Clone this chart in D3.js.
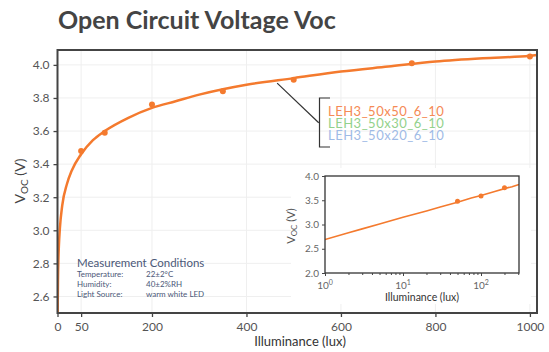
<!DOCTYPE html>
<html lang="en">
<head>
<meta charset="UTF-8">
<title>Open Circuit Voltage Voc</title>
<script src="https://d3js.org/d3.v7.min.js"></script>
<style>
  body { margin: 0; background: #fff; }
  svg { font-family: Lato, "Open Sans", sans-serif; }
</style>
</head>
<body>
<div id="chart"></div>
<script>
// measured points (lux, V)
var measLux = [50, 100, 200, 350, 500, 750, 1000];
var measVoc = [3.48, 3.59, 3.76, 3.84, 3.91, 4.01, 4.05];
// fitted curve
var fitLux = [0.3, 0.5, 1, 2, 3, 5, 10, 20, 30, 50, 75, 100, 150, 200, 250, 300, 400, 500, 600, 700, 800, 900, 1000, 1015];
var fitVoc = [2.45, 2.55, 2.69, 2.83, 2.91, 3.01, 3.15, 3.28, 3.36, 3.46, 3.545, 3.60, 3.68, 3.74, 3.78, 3.82, 3.88, 3.92, 3.96, 3.99, 4.02, 4.04, 4.055, 4.06];
// inset points (log scale)
var insetLux = [50, 100, 200];
var insetVoc = [3.48, 3.59, 3.76];

var xTicks = [0, 50, 200, 400, 600, 800, 1000];
var yTicks = [2.6, 2.8, 3.0, 3.2, 3.4, 3.6, 3.8, 4.0];
var insetYTicks = [2.0, 2.5, 3.0, 3.5, 4.0];
var insetXTicks = [1, 10, 100];

var legendNames = ["LEH3_50x50_6_10", "LEH3_50x30_6_10", "LEH3_50x20_6_10"];
var legendColors = ["#f58a55", "#93d18c", "#9fbbe6"];
var condLabels = ["Temperature:", "Humidity:", "Light Source:"];
var condValues = ["22\u00b12\u00b0C", "40\u00b12%RH", "warm white LED"];

var W = 549, H = 352;
var orange = "#f47a2e";

var svg = d3.select("#chart").append("svg")
    .attr("width", W).attr("height", H);

svg.append("rect").attr("width", W).attr("height", H).attr("fill", "#fff");

svg.append("text")
    .attr("x", 58).attr("y", 29)
    .attr("font-size", 25).attr("font-weight", "bold")
    .attr("fill", "#444")
    .text("Open Circuit Voltage Voc");

var x = d3.scaleLinear().domain([0, 1015]).range([57.5, 537]);
var y = d3.scaleLinear().domain([2.5, 4.09]).range([313, 50]);

var fit = fitLux.map(function(d, i) { return [d, fitVoc[i]]; });
var meas = measLux.map(function(d, i) { return [d, measVoc[i]]; });

// grid
var g = svg.append("g");
g.selectAll(".gx").data(xTicks.slice(1)).enter().append("line")
    .attr("x1", d => x(d)).attr("x2", d => x(d))
    .attr("y1", 50).attr("y2", 313)
    .attr("stroke", "#efefef");
g.selectAll(".gy").data(yTicks).enter().append("line")
    .attr("x1", 57.5).attr("x2", 537)
    .attr("y1", d => y(d)).attr("y2", d => y(d))
    .attr("stroke", "#efefef");

svg.append("clipPath").attr("id", "mainclip")
  .append("rect").attr("x", 57.5).attr("y", 50).attr("width", 537 - 57.5).attr("height", 263);

// annotation leader + bracket
var ann = svg.append("g").attr("stroke", "#333").attr("stroke-width", 1.2).attr("fill", "none");
ann.append("line")
    .attr("x1", x(465)).attr("y1", y(3.89))
    .attr("x2", x(553)).attr("y2", y(3.65));
ann.append("path")
    .attr("d", "M330,98 H319.5 V147 H330");

svg.selectAll(".leg").data(legendNames).enter().append("text")
    .attr("x", 328).attr("y", (d, i) => 111 + i * 12)
    .attr("dy", "0.35em")
    .attr("font-size", 13).attr("letter-spacing", 0.5)
    .attr("fill", (d, i) => legendColors[i])
    .text(d => d);

// fit line + points
var line = d3.line().x(d => x(d[0])).y(d => y(d[1])).curve(d3.curveMonotoneX);
svg.append("path").datum(fit)
    .attr("clip-path", "url(#mainclip)")
    .attr("d", line).attr("fill", "none")
    .attr("stroke", orange).attr("stroke-width", 2.5);
svg.selectAll(".pt").data(meas).enter().append("circle")
    .attr("cx", d => x(d[0])).attr("cy", d => y(d[1]))
    .attr("r", 3).attr("fill", orange);

// measurement conditions
var mc = svg.append("g").attr("fill", "#4b5878");
mc.append("text").attr("x", 77).attr("y", 263).attr("dy", "0.35em")
    .attr("font-size", 11.5).text("Measurement Conditions");
mc.selectAll(".cl").data(condLabels).enter().append("text")
    .attr("x", 77).attr("y", (d, i) => 274 + i * 10).attr("dy", "0.35em")
    .attr("font-size", 8).text(d => d);
mc.selectAll(".cv").data(condValues).enter().append("text")
    .attr("x", 146).attr("y", (d, i) => 274 + i * 10).attr("dy", "0.35em")
    .attr("font-size", 8).text(d => d);

// frame
svg.append("rect").attr("x", 57.5).attr("y", 50).attr("width", 537 - 57.5).attr("height", 263)
    .attr("fill", "none").attr("stroke", "#444").attr("stroke-width", 2);

// axes
var xAxis = svg.append("g").attr("transform", "translate(0,313)")
    .call(d3.axisBottom(x).tickValues(xTicks).tickSize(4).tickPadding(5).tickFormat(d3.format("d")));
var yAxis = svg.append("g").attr("transform", "translate(57.5,0)")
    .call(d3.axisLeft(y).tickValues(yTicks).tickSize(4).tickPadding(4).tickFormat(d3.format(".1f")));
[xAxis, yAxis].forEach(function(a) {
  a.select(".domain").remove();
  a.selectAll("line").attr("stroke", "#444").attr("stroke-width", 1.3);
  a.selectAll("text").attr("font-size", 12).attr("fill", "#555").attr("font-family", "Lato, sans-serif");
});

svg.append("text").attr("x", 300).attr("y", 346).attr("text-anchor", "middle")
    .attr("font-size", 13).attr("fill", "#333").text("Illuminance (lux)");
var yl = svg.append("text").attr("transform", "translate(25,181) rotate(-90)")
    .attr("text-anchor", "middle").attr("font-size", 14).attr("fill", "#444");
yl.append("tspan").text("V");
yl.append("tspan").attr("font-size", 10).attr("dy", 3).text("OC");
yl.append("tspan").attr("dy", -3).text(" (V)");

// ---- inset ----
var ix = d3.scaleLog().domain([1, 307]).range([325, 519]);
var iy = d3.scaleLinear().domain([2, 4]).range([273, 176]);

svg.append("rect").attr("x", 291).attr("y", 168).attr("width", 240).attr("height", 136).attr("fill", "#fff");
svg.append("clipPath").attr("id", "insetclip")
  .append("rect").attr("x", 325).attr("y", 176).attr("width", 194).attr("height", 97);

var iline = d3.line().x(d => ix(d[0])).y(d => iy(d[1]));
svg.append("path").datum(fit.filter(d => d[0] >= 1))
    .attr("clip-path", "url(#insetclip)")
    .attr("d", iline).attr("fill", "none")
    .attr("stroke", orange).attr("stroke-width", 1.6);
svg.selectAll(".ipt").data(insetLux.map((d, i) => [d, insetVoc[i]])).enter().append("circle")
    .attr("cx", d => ix(d[0])).attr("cy", d => iy(d[1]))
    .attr("r", 2.5).attr("fill", orange);

svg.append("rect").attr("x", 325).attr("y", 176).attr("width", 194).attr("height", 97)
    .attr("fill", "none").attr("stroke", "#333").attr("stroke-width", 1.3);

var minor = [];
[1, 10, 100].forEach(function(dec) {
  for (var k = 2; k <= 9; k++) if (dec * k <= 307) minor.push(dec * k);
});
var ixAxis = svg.append("g").attr("transform", "translate(0,273)")
    .call(d3.axisBottom(ix).tickValues(insetXTicks).tickSize(3).tickFormat(""));
var ixMinor = svg.append("g").attr("transform", "translate(0,273)")
    .call(d3.axisBottom(ix).tickValues(minor).tickSize(2).tickFormat(""));
ixMinor.select(".domain").remove();
ixAxis.select(".domain").remove();
var iyAxis = svg.append("g").attr("transform", "translate(325,0)")
    .call(d3.axisLeft(iy).tickValues(insetYTicks).tickSize(3).tickPadding(3).tickFormat(d3.format(".1f")));
iyAxis.select(".domain").remove();
iyAxis.selectAll("text").attr("font-size", 10).attr("fill", "#666").attr("font-family", "Lato, sans-serif");
[ixAxis, ixMinor, iyAxis].forEach(a => a.selectAll("line").attr("stroke", "#444"));

var sup = svg.selectAll(".ixl").data(insetXTicks).enter().append("text")
    .attr("x", d => ix(d)).attr("y", 289).attr("text-anchor", "middle")
    .attr("font-size", 10).attr("fill", "#666");
sup.append("tspan").text("10");
sup.append("tspan").attr("font-size", 7).attr("dy", -4).text(d => Math.round(Math.log10(d)));

svg.append("text").attr("x", 422).attr("y", 301).attr("text-anchor", "middle")
    .attr("font-size", 10.5).attr("fill", "#333").text("Illuminance (lux)");
var iyl = svg.append("text").attr("transform", "translate(295,226) rotate(-90)")
    .attr("text-anchor", "middle").attr("font-size", 11).attr("fill", "#555");
iyl.append("tspan").text("V");
iyl.append("tspan").attr("font-size", 8).attr("dy", 2).text("OC");
iyl.append("tspan").attr("dy", -2).text(" (V)");
</script>
</body>
</html>
